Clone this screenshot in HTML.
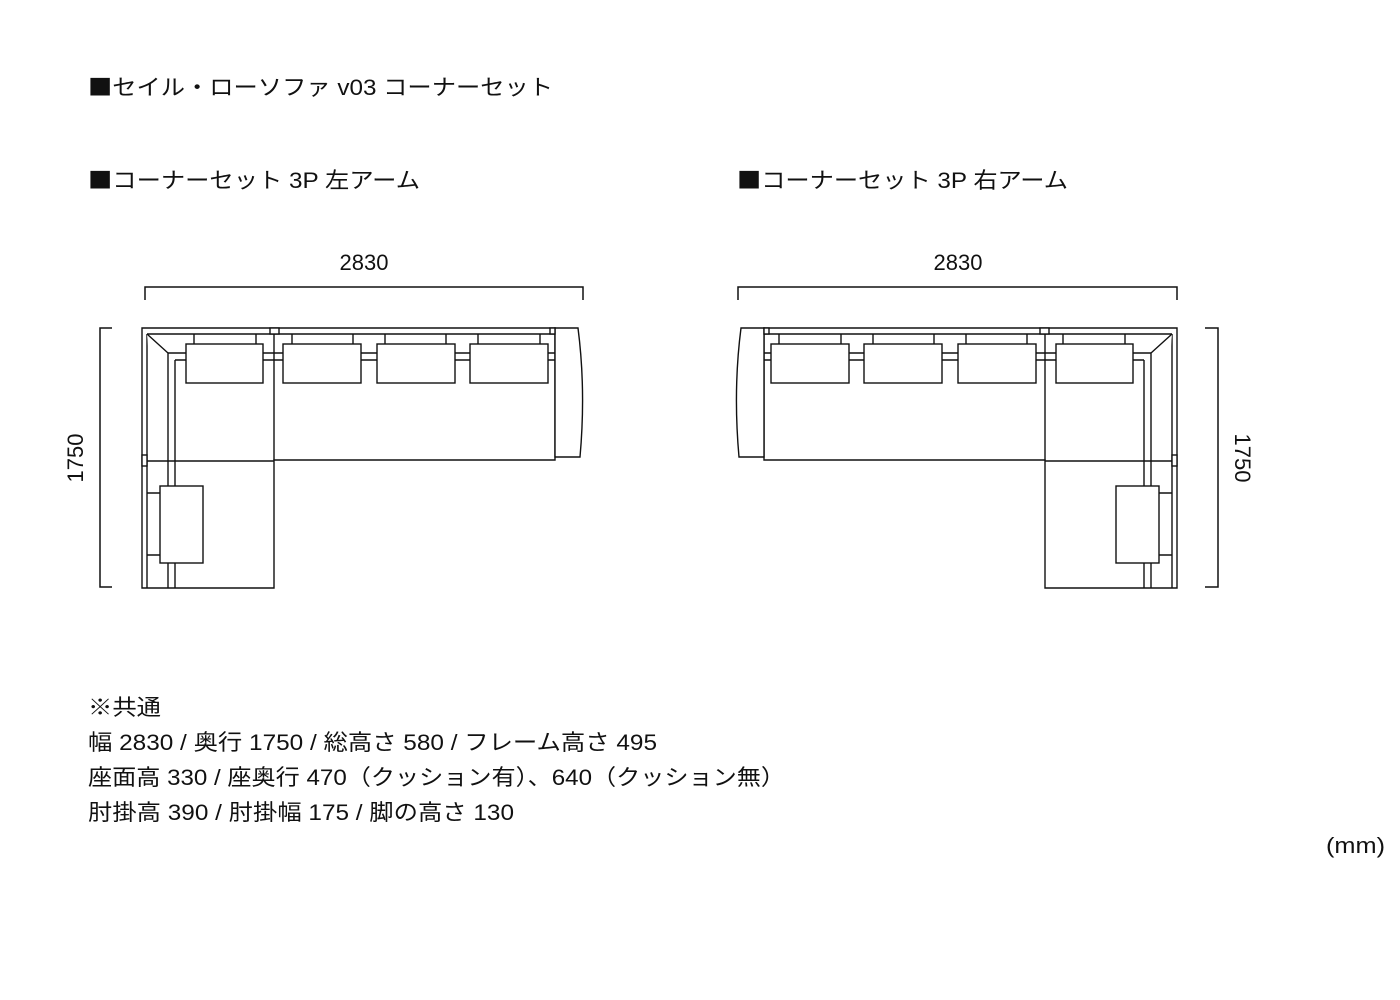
<!DOCTYPE html>
<html><head><meta charset="utf-8"><style>
html,body{margin:0;padding:0;background:#fff}
svg{display:block}
text{font-family:"Liberation Sans","Noto Sans CJK JP",sans-serif;font-size:22px;fill:#111}
.sq{font-family:"Noto Sans CJK JP",sans-serif}
</style></head><body>
<svg width="1400" height="1000" viewBox="0 0 1400 1000" xmlns="http://www.w3.org/2000/svg">
<text x="88" y="95" textLength="465" lengthAdjust="spacingAndGlyphs"><tspan class="sq">■</tspan>セイル・ローソファ v03 コーナーセット</text>
<text x="88" y="188" textLength="332" lengthAdjust="spacingAndGlyphs"><tspan class="sq">■</tspan>コーナーセット 3P 左アーム</text>
<text x="737" y="188" textLength="331" lengthAdjust="spacingAndGlyphs"><tspan class="sq">■</tspan>コーナーセット 3P 右アーム</text>

<g fill="none" stroke="#111" stroke-width="1.5">
<path d="M145 300V287H583V300"/>
<path d="M112 328H100V587H112"/>
<path d="M738 300V287H1177V300"/>
<path d="M1205 328H1218V587H1205"/>
</g>
<text x="364" y="270" text-anchor="middle">2830</text>
<text x="958" y="270" text-anchor="middle">2830</text>
<text transform="translate(83,458) rotate(-90)" text-anchor="middle">1750</text>
<text transform="translate(1235,458) rotate(90)" text-anchor="middle">1750</text>

<defs>
<g id="sofa" fill="#fff" stroke="#111" stroke-width="1.4">
  <path d="M142 328H555V460H274V588H142Z"/>
  <path d="M147 334H555"/>
  <path d="M147 334V588"/>
  <path d="M555 328H578Q586 390 580 457H555Z"/>
  <path d="M147 334L168 353V588"/>
  <path d="M175 360V588"/>
  <path d="M168 353H555"/>
  <path d="M175 360H555"/>
  <path d="M274 328V460"/>
  <path d="M142 461H274"/>
  <rect x="270" y="328" width="9" height="6"/>
  <rect x="142" y="455" width="5" height="11"/>
  <rect x="550" y="328" width="5" height="6"/>
  <path d="M194 334V344M256 334V344M292 334V344M353 334V344M385 334V344M446 334V344M478 334V344M540 334V344" fill="none"/>
  <rect x="186" y="344" width="77" height="39"/>
  <rect x="283" y="344" width="78" height="39"/>
  <rect x="377" y="344" width="78" height="39"/>
  <rect x="470" y="344" width="78" height="39"/>
  <path d="M147 493H160M147 555H160" fill="none"/>
  <rect x="160" y="486" width="43" height="77"/>
</g>
</defs>
<use href="#sofa"/>
<use href="#sofa" transform="matrix(-1,0,0,1,1319,0)"/>

<text x="88" y="715" textLength="73" lengthAdjust="spacingAndGlyphs">※共通</text>
<text x="88" y="750" textLength="569" lengthAdjust="spacingAndGlyphs">幅 2830 / 奥行 1750 / 総高さ 580 / フレーム高さ 495</text>
<text x="88" y="785" textLength="697" lengthAdjust="spacingAndGlyphs">座面高 330 / 座奥行 470（クッション有）、640（クッション無）</text>
<text x="88" y="820" textLength="426" lengthAdjust="spacingAndGlyphs">肘掛高 390 / 肘掛幅 175 / 脚の高さ 130</text>
<text x="1326" y="853" textLength="59" lengthAdjust="spacingAndGlyphs">(mm)</text>
</svg>
</body></html>
